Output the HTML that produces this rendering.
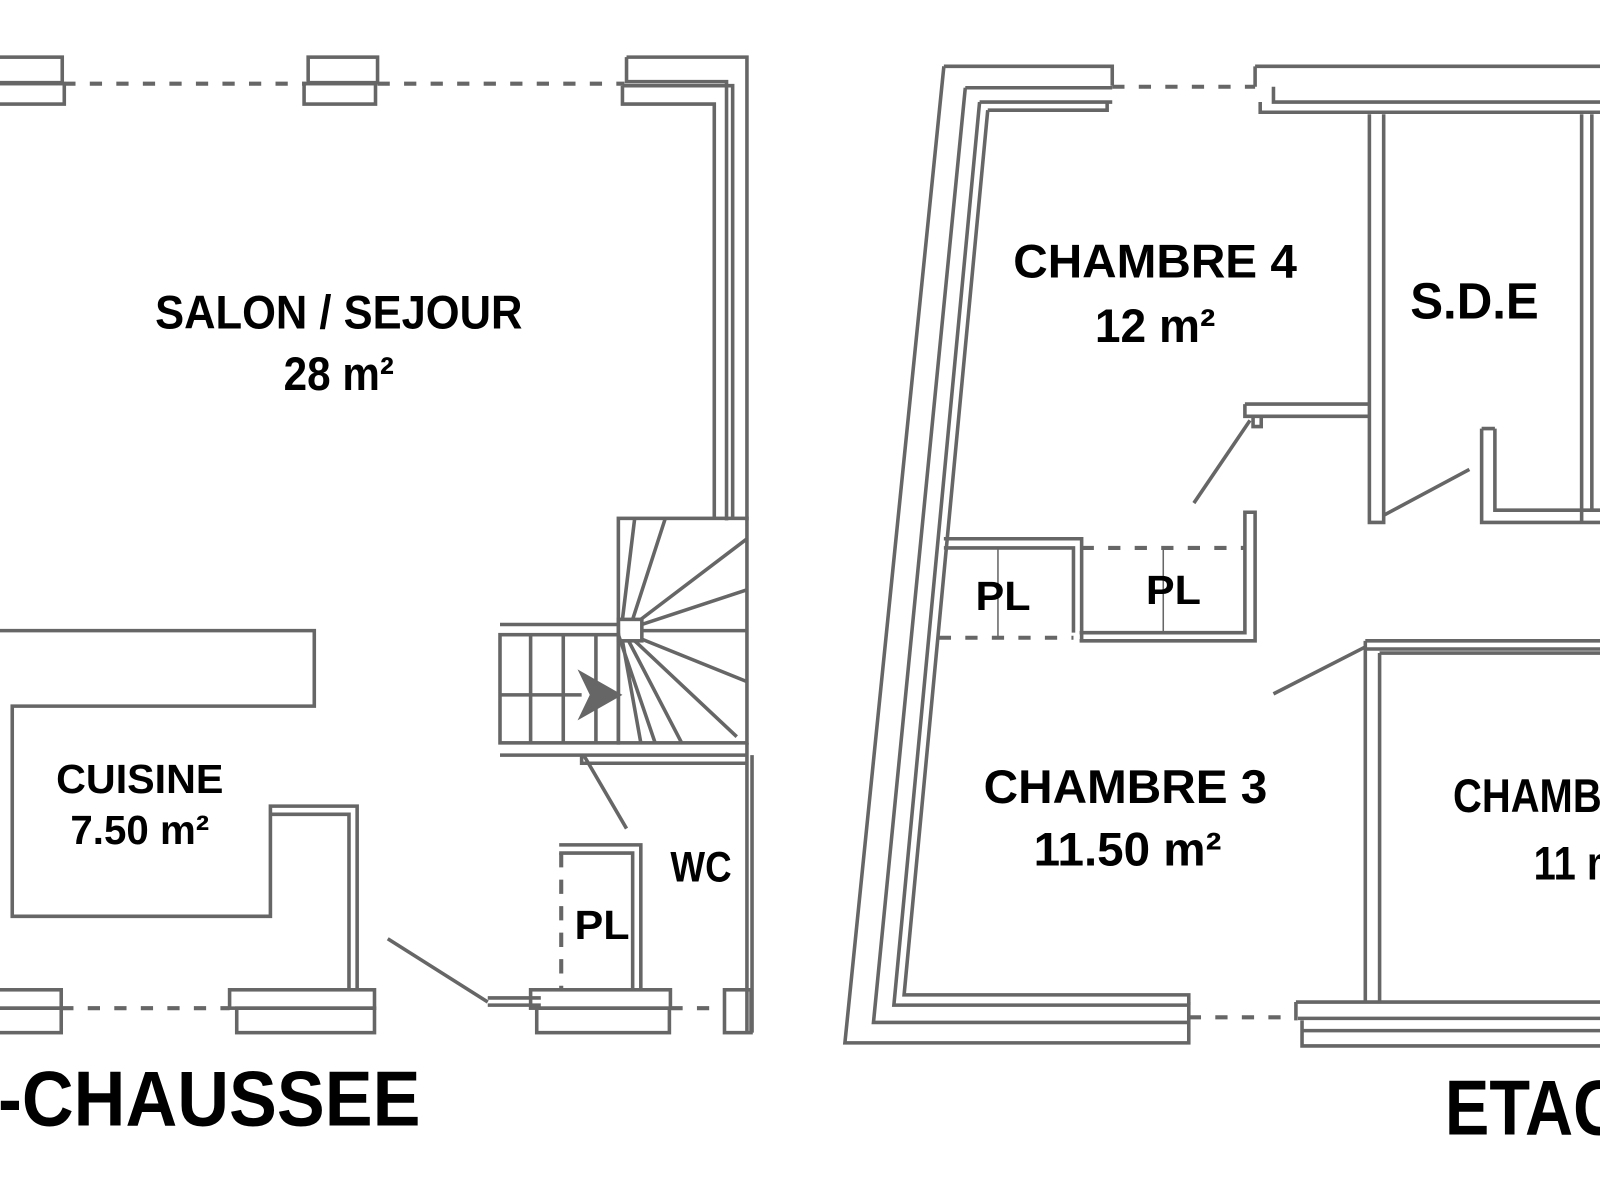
<!DOCTYPE html>
<html><head><meta charset="utf-8"><style>
html,body{margin:0;padding:0;background:#fff;width:1600px;height:1200px;overflow:hidden}
svg{display:block}
text{font-family:"Liberation Sans Narrow","Liberation Sans",sans-serif;font-weight:bold;fill:#000}
</style></head><body>
<svg width="1600" height="1200" viewBox="0 0 1568 1176" preserveAspectRatio="none" xmlns="http://www.w3.org/2000/svg">
<rect width="1568" height="1176" fill="#fff"/>
<g fill="none" stroke="#666" stroke-width="3.5">
<rect x="-5" y="56" width="66" height="25"/><rect x="-5" y="82" width="68" height="20"/>
<rect x="302" y="56" width="68" height="25"/><rect x="298" y="82" width="70" height="20"/>
<path d="M62 82 H300 M370 82 H612" stroke-dasharray="12 14" stroke-width="4"/>
<path d="M614 56 H732 V510 M614 56 V80 H712 V510"/>
<path d="M610 84 V102 H700 V508 M610 84 H718 V508"/>
<rect x="606" y="508" width="126" height="220"/>
<rect x="490" y="622" width="116" height="106"/>
<path d="M490 612 H606 M490 740 H732 M570 740 V748 H732"/>
<rect x="606" y="607" width="23" height="21"/>
<path d="M520 622 V728 M552 622 V728 M584 622 V728 M490 681 H570"/>
<path d="M566 656 L610 681 L566 706 L578 681 Z" fill="#666" stroke="none"/>
<path d="M610 607 L622 508 M620 607 L652 508 M628 607 L732 528 M629 612 L732 578 M629 618 L732 618 M628 626 L732 668 M622 628 L722 722 M616 628 L668 728 M610 628 L628 728 M606 622 L642 728"/>
<path d="M732 728 V1012 M737 740 V1012"/>
<path d="M-5 618 H308 V692 H12 V898 H265 V790 H350 V970 M265 790 V798 H342 V970"/>
<rect x="-5" y="970" width="65" height="18"/><rect x="-5" y="988" width="65" height="24"/>
<rect x="225" y="970" width="142" height="18"/><rect x="232" y="988" width="135" height="24"/>
<rect x="520" y="970" width="137" height="18"/><rect x="526" y="988" width="130" height="24"/>
<rect x="710" y="970" width="26" height="42"/>
<path d="M60 988 H225 M657 988 H710" stroke-dasharray="12 14" stroke-width="4"/>
<path d="M478 978 H530 M478 985 H530"/>
<path d="M380 920 L478 982"/>
<path d="M548 828 H628 V970 M548 836 H620 V970"/>
<path d="M550 836 V970" stroke-dasharray="14 12" stroke-width="4"/>
<path d="M572 740 L614 812"/>
<path d="M925 65 H1090 V84 M925 65 L828 1022 H1165 V982 M946 86 H1090 M946 86 L856 1002 H1165"/>
<path d="M960 100 H1090 M960 100 L876 985 H1165 M968 108 H1085 V100 M968 108 L886 975 H1165 V985"/>
<path d="M1090 85 H1230 M1165 997 H1270" stroke-dasharray="12 14" stroke-width="4"/>
<path d="M1230 65 H1580 M1230 65 V85 M1248 85 V100 H1580 M1235 100 V110 H1580"/>
<path d="M1270 982 H1580 M1270 982 V1000 M1272 998 H1580 M1276 1000 V1025 H1580 M1276 1010 H1580"/>
<path d="M1342 112 V512 H1356 V112"/>
<path d="M1550 112 V512 M1560 112 V500"/>
<path d="M1452 420 V512 H1568 M1465 420 V500 H1568 M1452 420 H1465"/>
<path d="M1220 396 H1342 M1220 396 V408 H1342 M1228 408 V418 H1236 V408"/>
<path d="M1225 412 L1170 493"/>
<path d="M1356 505 L1440 460"/>
<path d="M925 528 H1060 V628 M925 537 H1052 V620"/>
<path d="M1058 620 H1220 V502 H1230 V628 H1058"/>
<path d="M920 625 H1052 M1060 537 H1220" stroke-dasharray="12 14" stroke-width="4"/>
<path d="M978 537 V625 M1140 537 V620" stroke-width="1.5"/>
<path d="M1338 628 H1580 M1338 628 V636 H1580 M1338 636 V982 M1352 640 H1580 M1352 640 V982"/>
<path d="M1338 634 L1248 680"/>
</g>
<text x="332" y="322" font-size="46" text-anchor="middle" textLength="360" lengthAdjust="spacingAndGlyphs">SALON / SEJOUR</text>
<text x="332" y="382" font-size="46" text-anchor="middle" textLength="108" lengthAdjust="spacingAndGlyphs">28 m²</text>
<text x="137" y="777" font-size="40" text-anchor="middle" textLength="164" lengthAdjust="spacingAndGlyphs">CUISINE</text>
<text x="137" y="827" font-size="40" text-anchor="middle" textLength="136" lengthAdjust="spacingAndGlyphs">7.50 m²</text>
<text x="687" y="864" font-size="42" text-anchor="middle" textLength="60" lengthAdjust="spacingAndGlyphs">WC</text>
<text x="590" y="920" font-size="40" text-anchor="middle" textLength="54" lengthAdjust="spacingAndGlyphs">PL</text>
<text x="-2" y="1103" font-size="76" textLength="414" lengthAdjust="spacingAndGlyphs">-CHAUSSEE</text>
<text x="1132" y="272" font-size="46" text-anchor="middle" textLength="278" lengthAdjust="spacingAndGlyphs">CHAMBRE 4</text>
<text x="1132" y="335" font-size="46" text-anchor="middle" textLength="118" lengthAdjust="spacingAndGlyphs">12 m²</text>
<text x="1445" y="312" font-size="50" text-anchor="middle" textLength="126" lengthAdjust="spacingAndGlyphs">S.D.E</text>
<text x="983" y="598" font-size="40" text-anchor="middle" textLength="54" lengthAdjust="spacingAndGlyphs">PL</text>
<text x="1150" y="592" font-size="40" text-anchor="middle" textLength="54" lengthAdjust="spacingAndGlyphs">PL</text>
<text x="1103" y="787" font-size="46" text-anchor="middle" textLength="278" lengthAdjust="spacingAndGlyphs">CHAMBRE 3</text>
<text x="1105" y="848" font-size="46" text-anchor="middle" textLength="184" lengthAdjust="spacingAndGlyphs">11.50 m²</text>
<text x="1424" y="796" font-size="46" textLength="200" lengthAdjust="spacingAndGlyphs">CHAMBRE</text>
<text x="1503" y="862" font-size="46" textLength="100" lengthAdjust="spacingAndGlyphs">11 m²</text>
<text x="1416" y="1112" font-size="76" textLength="220" lengthAdjust="spacingAndGlyphs">ETAGE</text>
</svg>
</body></html>
